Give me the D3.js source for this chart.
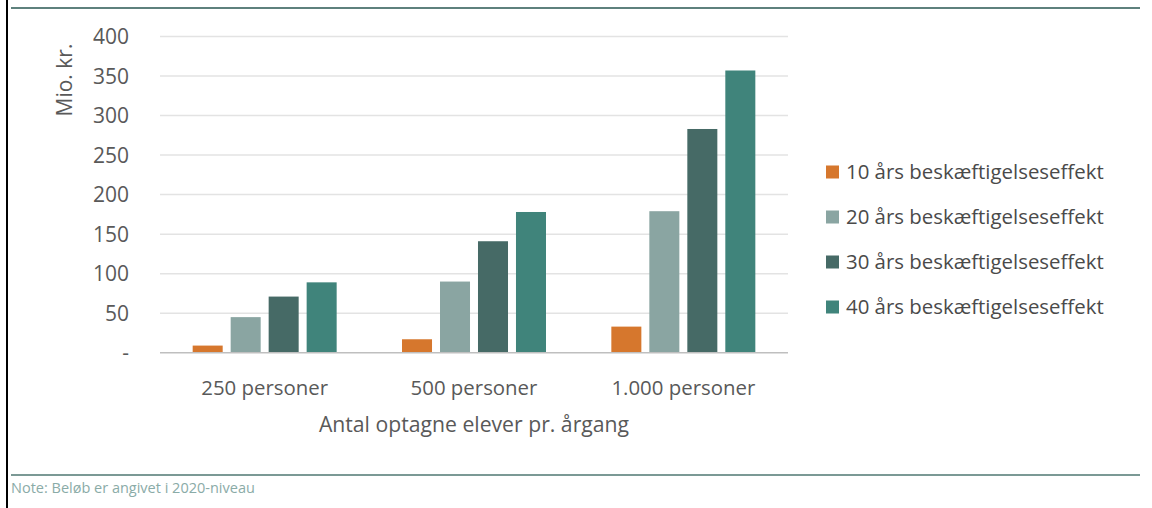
<!DOCTYPE html>
<html>
<head>
<meta charset="utf-8">
<script src="https://cdn.jsdelivr.net/npm/d3@7"></script>
<style>
  html, body { margin: 0; padding: 0; background: #fff; }
  svg { display: block; }
  text { font-family: "Open Sans", sans-serif; }
</style>
</head>
<body>
<svg id="chart" width="1152" height="508"></svg>
<script>
const categories = ["250 personer", "500 personer", "1.000 personer"];
const series = ["10 års beskæftigelseseffekt", "20 års beskæftigelseseffekt", "30 års beskæftigelseseffekt", "40 års beskæftigelseseffekt"];
const values10 = [9, 17, 33];
const values20 = [45, 90, 179];
const values30 = [71, 141, 283];
const values40 = [89, 178, 357];
const yTicks = [0, 50, 100, 150, 200, 250, 300, 350, 400];
const yTickLabels = ["-", "50", "100", "150", "200", "250", "300", "350", "400"];
const colors = ["#D6772D", "#8AA5A2", "#466A66", "#40847B"];

const seriesValues = [values10, values20, values30, values40];

const svg = d3.select("#chart");

// frame decorations
svg.append("line").attr("x1", 7).attr("x2", 7).attr("y1", 0).attr("y2", 508)
  .attr("stroke", "#000").attr("stroke-width", 2);
svg.append("line").attr("x1", 11).attr("x2", 1140).attr("y1", 8).attr("y2", 8)
  .attr("stroke", "#5E817D").attr("stroke-width", 2);
svg.append("line").attr("x1", 11).attr("x2", 1140).attr("y1", 475).attr("y2", 475)
  .attr("stroke", "#7B9995").attr("stroke-width", 2);
svg.append("text").attr("x", 11).attr("y", 493)
  .attr("font-size", 14.5).attr("fill", "#8AABA7")
  .text("Note: Beløb er angivet i 2020-niveau");

const plotLeft = 160, plotRight = 788, plotTop = 36.5, plotBottom = 352.7;

const y = d3.scaleLinear().domain([0, 400]).range([plotBottom, plotTop]);
const x0 = d3.scaleBand().domain(categories).range([plotLeft, plotRight]).padding(0);
const x1 = d3.scaleBand().domain(series).range([0, x0.bandwidth()])
  .paddingInner(0.21).paddingOuter(0.86);

// gridlines
const grid = svg.append("g");
grid.selectAll("line").data(yTicks.filter(d => d > 0)).join("line")
  .attr("x1", plotLeft).attr("x2", plotRight)
  .attr("y1", d => y(d)).attr("y2", d => y(d))
  .attr("stroke", "#E3E3E3").attr("stroke-width", 1.5);

// y axis
const yAxis = d3.axisLeft(y).tickValues(yTicks)
  .tickFormat((d, i) => yTickLabels[i]).tickSize(0).tickPadding(0);
const yg = svg.append("g").attr("transform", `translate(129,0)`).call(yAxis);
yg.select(".domain").remove();
yg.selectAll("text").attr("font-size", 21).attr("fill", "#595959")
  .attr("font-family", "Open Sans, sans-serif").attr("dy", "0.34em");

// bars
const groups = svg.append("g").selectAll("g").data(categories).join("g")
  .attr("transform", d => `translate(${x0(d)},0)`);
groups.selectAll("rect")
  .data((c, ci) => series.map((s, si) => ({ s, si, v: seriesValues[si][ci] })))
  .join("rect")
  .attr("x", d => x1(d.s))
  .attr("width", x1.bandwidth())
  .attr("y", d => y(d.v))
  .attr("height", d => y(0) - y(d.v))
  .attr("fill", d => colors[d.si]);

// baseline
svg.append("line").attr("x1", plotLeft).attr("x2", plotRight)
  .attr("y1", y(0)).attr("y2", y(0))
  .attr("stroke", "#BFBFBF").attr("stroke-width", 1.5);

// x axis labels
const xAxis = d3.axisBottom(x0).tickSize(0).tickPadding(0);
const xg = svg.append("g").attr("transform", `translate(0,${y(0)})`).call(xAxis);
xg.select(".domain").remove();
xg.selectAll("text").attr("font-size", 20.4).attr("fill", "#595959")
  .attr("font-family", "Open Sans, sans-serif")
  .attr("dy", null).attr("y", 42);

svg.append("text").attr("x", (plotLeft + plotRight) / 2).attr("y", 432)
  .attr("text-anchor", "middle").attr("font-size", 21.2).attr("fill", "#595959")
  .text("Antal optagne elever pr. årgang");

svg.append("text")
  .attr("transform", "translate(72,80) rotate(-90)")
  .attr("text-anchor", "middle").attr("font-size", 21).attr("fill", "#595959")
  .text("Mio. kr.");

// legend
const legend = svg.append("g").selectAll("g").data(series).join("g")
  .attr("transform", (d, i) => `translate(826,${172 + i * 45})`);
legend.append("rect").attr("x", 0).attr("y", -6.5).attr("width", 13).attr("height", 13)
  .attr("fill", (d, i) => colors[i]);
legend.append("text").attr("x", 20).attr("y", 0).attr("dy", "0.35em")
  .attr("font-size", 20.4).attr("fill", "#4A4A4A").text(d => d);
</script>
</body>
</html>
